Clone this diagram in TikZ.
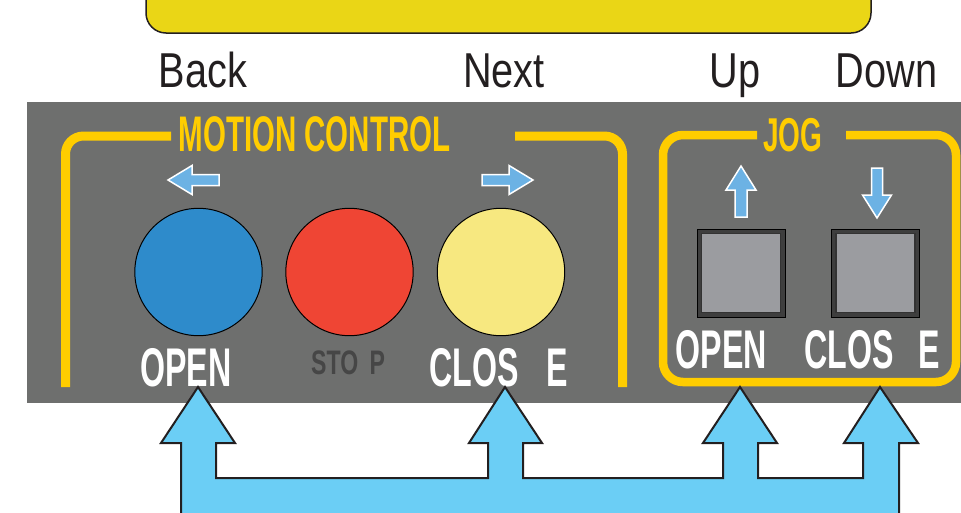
\documentclass[tikz,border=0pt]{standalone}
\usepackage{fontspec}
\setmainfont{Liberation Sans}
\newfontfamily\condreg{Liberation Sans}[FakeStretch=0.81]
\newfontfamily\condbold{Liberation Sans}[FakeStretch=0.59]
\newfontfamily\condboldw{Liberation Sans}[FakeStretch=0.68]
\definecolor{panelgray}{RGB}{110,111,110}
\definecolor{ylline}{RGB}{255,205,0}
\definecolor{topyellow}{RGB}{234,214,22}
\definecolor{btnblue}{RGB}{46,139,203}
\definecolor{btnred}{RGB}{239,69,52}
\definecolor{btnyellow}{RGB}{247,232,128}
\definecolor{smallarrow}{RGB}{108,178,228}
\definecolor{bigarrow}{RGB}{107,206,245}
\definecolor{sqframe}{RGB}{62,62,62}
\definecolor{sqface}{RGB}{155,156,160}
\definecolor{stopgray}{RGB}{70,70,70}
\definecolor{labelblack}{RGB}{35,31,32}
\tikzset{
  lbl/.style={anchor=base, inner sep=0pt, text=labelblack, font=\condreg\fontsize{49}{49}\selectfont},
  btntext/.style={inner sep=0pt, text=white, font=\condbold\bfseries\fontsize{54.5}{54.5}\selectfont},
  grouptitle/.style={anchor=base, inner sep=0pt, text=ylline},
  yline/.style={draw=ylline, line width=9pt, line cap=butt},
  roundbtn/.style={circle, draw=black, line width=1pt, minimum size=127.4pt, inner sep=0pt},
  sqbtn/.style={draw=black, fill=sqframe, line width=1pt, minimum size=88pt, inner sep=0pt},
  sqface/.style={draw=black!80, fill=sqface, line width=1.2pt, minimum size=79pt, inner sep=0pt},
  smallarr/.style={fill=smallarrow, draw=white, line width=1.5pt, line join=miter},
  bigarr/.style={fill=bigarrow, draw=labelblack, line width=2pt, line join=miter}
}
\begin{document}
\begin{tikzpicture}[x=1pt,y=-1pt]
\useasboundingbox (0,0) rectangle (961,512);
\clip (0,0) rectangle (961,512);
% top display
\draw[fill=topyellow, draw=labelblack, line width=1.5pt, rounded corners=20] (146,-30) rectangle (871,33);
% labels
\node[lbl] (back) at (203,87) {Back};
\node[lbl] (next) at (504,87) {Next};
\node[lbl] (up) at (735,87) {Up};
\node[lbl] (down) at (886.5,87) {Down};
% panel
\fill[panelgray] (27,102) rectangle (961,403);
% motion control bracket
\draw[yline, rounded corners=18] (171,136) -- (65.5,136) -- (65.5,387);
\draw[yline, rounded corners=18] (515,136) -- (622.5,136) -- (622.5,387);
\node[grouptitle, font=\condbold\bfseries\fontsize{50}{50}\selectfont] (motion) at (314.5,151) {MOTION CONTROL};
% jog box
\draw[yline, line width=8.5pt, rounded corners=20] (757,135) -- (663,135) -- (663,382) -- (956,382) -- (956,135) -- (846,135);
\node[grouptitle, font=\condbold\bfseries\fontsize{47.5}{47.5}\selectfont] (jog) at (793,151) {JOG};
% small arrows
\draw[smallarr] (168,180) -- (192,165.5) -- (192,174.5) -- (219,174.5) -- (219,185.5) -- (192,185.5) -- (192,194.5) -- cycle;
\draw[smallarr] (533,180) -- (509,165.5) -- (509,174.5) -- (482,174.5) -- (482,185.5) -- (509,185.5) -- (509,194.5) -- cycle;
\draw[smallarr] (741,166) -- (756,190) -- (747,190) -- (747,217) -- (735,217) -- (735,190) -- (726,190) -- cycle;
\draw[smallarr] (877,218) -- (891.5,195) -- (882.5,195) -- (882.5,168) -- (871.5,168) -- (871.5,195) -- (862.5,195) -- cycle;
% round buttons
\node[roundbtn, fill=btnblue] (openbtn) at (198.5,272) {};
\node[roundbtn, fill=btnred] (stopbtn) at (349.5,272) {};
\node[roundbtn, fill=btnyellow] (closebtn) at (501,272) {};
% square buttons
\node[sqbtn] (jogup) at (741,273) {};
\node[sqface] at (jogup.center) {};
\node[sqbtn] (jogdown) at (875.5,273) {};
\node[sqface] at (jogdown.center) {};
% button texts
\node[btntext, anchor=base] (opent) at (186,386) {OPEN};
\node[inner sep=0pt, anchor=base west, text=stopgray, font=\condboldw\bfseries\fontsize{34}{34}\selectfont] (stopt) at (311,374) {STO \hspace{5pt}P};
\node[btntext, anchor=base west] (closet) at (429,386) {CLOS \hspace{19pt}E};
\node[btntext, anchor=base] (jopent) at (721.5,368) {OPEN};
\node[btntext, anchor=base west] (jcloset) at (804,368) {CLOS \hspace{16pt}E};
% big connecting arrow
\draw[bigarr] (181,514) -- (181,443) -- (161,443) -- (198,387) -- (235,443) -- (216,443) -- (216,478)
  -- (488,478) -- (488,443) -- (469,443) -- (505,387) -- (542,443) -- (523,443) -- (523,478)
  -- (723,478) -- (723,443) -- (703,443) -- (740,387) -- (777,443) -- (758,443) -- (758,478)
  -- (863,478) -- (863,443) -- (844,443) -- (880,387) -- (918,443) -- (899,443) -- (899,514) -- cycle;
\end{tikzpicture}
\end{document}
